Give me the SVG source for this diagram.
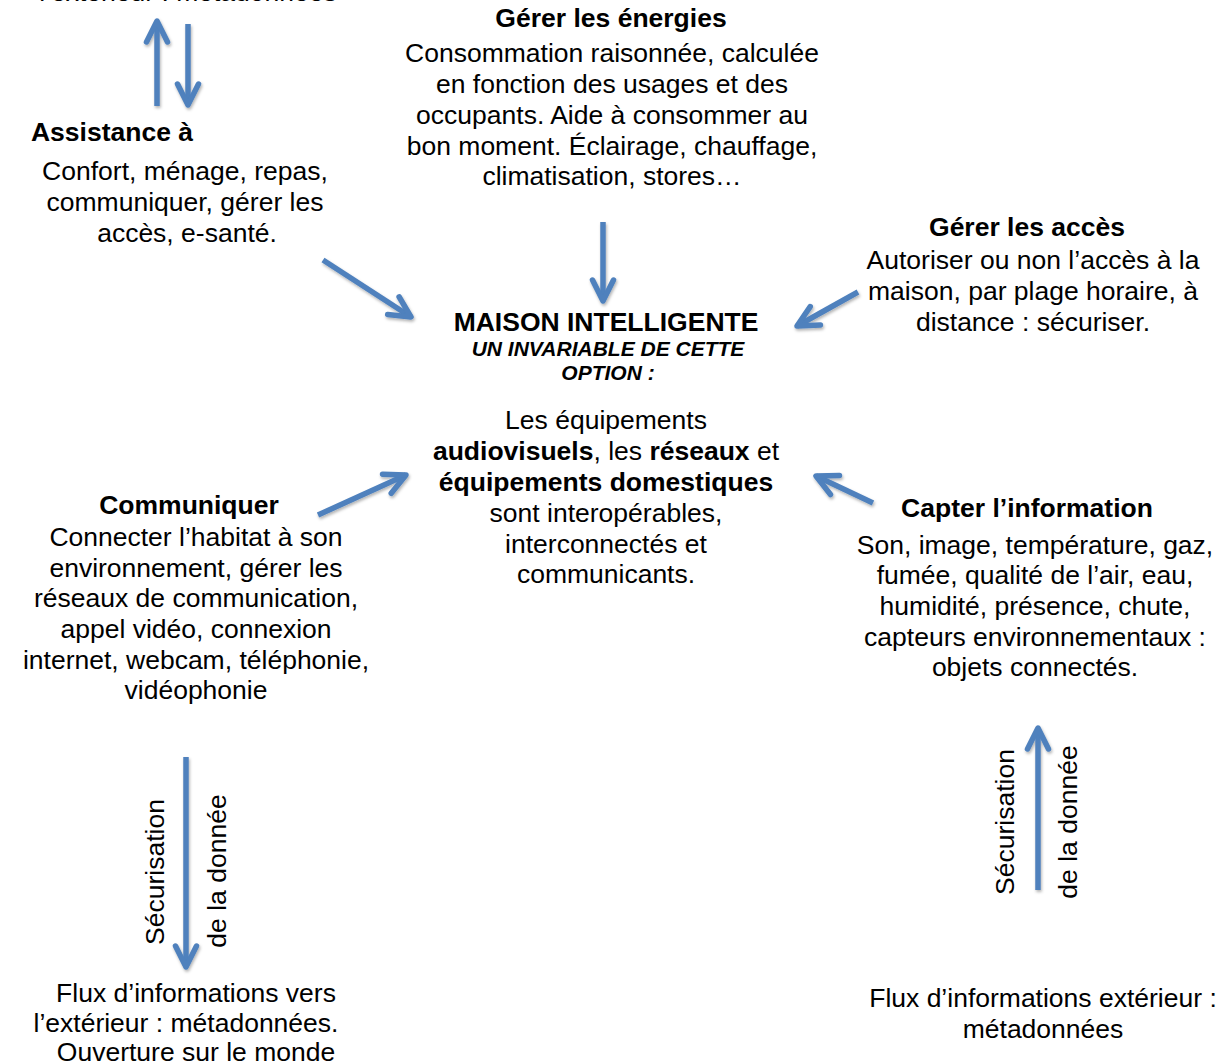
<svg xmlns="http://www.w3.org/2000/svg" width="1217" height="1062" viewBox="0 0 1217 1062">
  <style>
    text { font-family: "Liberation Sans", Arial, sans-serif; font-size: 26.5px; fill: #000; text-anchor: middle; }
    .b { font-weight: bold; }
    .sub { font-size: 21px; font-weight: bold; font-style: italic; }
    .arrow { fill: none; stroke: #4f81bd; stroke-width: 5.5; stroke-linecap: butt; marker-end: url(#head); }
  </style>
  <defs>
    <marker id="head" markerUnits="userSpaceOnUse" viewBox="-26 -15 30 30" refX="0" refY="0" markerWidth="30" markerHeight="30" orient="auto" overflow="visible">
      <path d="M -21,-10.5 L 0,0 L -21,10.5" fill="none" stroke="#4f81bd" stroke-width="5.5" stroke-linecap="round" stroke-linejoin="round"/>
    </marker>
    <filter id="shadow" x="-20%" y="-20%" width="140%" height="140%">
      <feDropShadow dx="1" dy="2" stdDeviation="1.5" flood-color="#000" flood-opacity="0.3"/>
    </filter>
  </defs>

  <rect width="1217" height="1062" fill="#fff"/>

  <!-- connectors -->
  <g id="connectors" filter="url(#shadow)">
    <line class="arrow" x1="157" y1="106" x2="157" y2="21"/>
    <line class="arrow" x1="188" y1="24" x2="188" y2="105"/>
    <line class="arrow" x1="323" y1="260" x2="411" y2="317"/>
    <line class="arrow" x1="603" y1="222" x2="603" y2="301"/>
    <line class="arrow" x1="858" y1="292" x2="797" y2="326"/>
    <line class="arrow" x1="318" y1="515" x2="406" y2="475"/>
    <line class="arrow" x1="873" y1="503" x2="816" y2="476"/>
    <line class="arrow" x1="186" y1="757" x2="186" y2="967"/>
    <line class="arrow" x1="1038" y1="890" x2="1038" y2="728"/>
  </g>

  <!-- outgoing flow, top edge -->
  <g id="flux-top">
    <text x="188" y="1">l’extérieur : métadonnées</text>
  </g>

  <g id="assistance">
    <text class="b" x="112" y="141">Assistance à</text>
    <text x="185" y="180">Confort, ménage, repas,</text>
    <text x="185" y="211">communiquer, gérer les</text>
    <text x="187" y="242">accès, e-santé.</text>
  </g>

  <g id="energies">
    <text class="b" x="611" y="27">Gérer les énergies</text>
    <text x="612" y="62">Consommation raisonnée, calculée</text>
    <text x="612" y="93">en fonction des usages et des</text>
    <text x="612" y="124">occupants. Aide à consommer au</text>
    <text x="612" y="155">bon moment. Éclairage, chauffage,</text>
    <text x="612" y="185">climatisation, stores…</text>
  </g>

  <g id="acces">
    <text class="b" x="1027" y="236">Gérer les accès</text>
    <text x="1033" y="269">Autoriser ou non l’accès à la</text>
    <text x="1033" y="300">maison, par plage horaire, à</text>
    <text x="1033" y="331">distance : sécuriser.</text>
  </g>

  <g id="maison">
    <text class="b" x="606" y="331">MAISON INTELLIGENTE</text>
    <text class="sub" x="608" y="356">UN INVARIABLE DE CETTE</text>
    <text class="sub" x="608" y="380">OPTION :</text>
    <text x="606" y="429">Les équipements</text>
    <text x="606" y="460"><tspan class="b">audiovisuels</tspan>, les <tspan class="b">réseaux</tspan> et</text>
    <text class="b" x="606" y="491">équipements domestiques</text>
    <text x="606" y="522">sont interopérables,</text>
    <text x="606" y="553">interconnectés et</text>
    <text x="606" y="583">communicants.</text>
  </g>

  <g id="communiquer">
    <text class="b" x="189" y="514">Communiquer</text>
    <text x="196" y="546">Connecter l’habitat à son</text>
    <text x="196" y="577">environnement, gérer les</text>
    <text x="196" y="607">réseaux de communication,</text>
    <text x="196" y="638">appel vidéo, connexion</text>
    <text x="196" y="669">internet, webcam, téléphonie,</text>
    <text x="196" y="699">vidéophonie</text>
  </g>

  <g id="capter">
    <text class="b" x="1027" y="517">Capter l’information</text>
    <text x="1035" y="554">Son, image, température, gaz,</text>
    <text x="1035" y="584">fumée, qualité de l’air, eau,</text>
    <text x="1035" y="615">humidité, présence, chute,</text>
    <text x="1035" y="646">capteurs environnementaux :</text>
    <text x="1035" y="676">objets connectés.</text>
  </g>

  <g id="securisation-gauche">
    <text transform="translate(164,872) rotate(-90)">Sécurisation</text>
    <text transform="translate(226,871) rotate(-90)">de la donnée</text>
  </g>

  <g id="securisation-droite">
    <text transform="translate(1014,822) rotate(-90)">Sécurisation</text>
    <text transform="translate(1077,822) rotate(-90)">de la donnée</text>
  </g>

  <g id="flux-sortant">
    <text x="196" y="1002">Flux d’informations vers</text>
    <text x="186" y="1032">l’extérieur : métadonnées.</text>
    <text x="196" y="1061">Ouverture sur le monde</text>
  </g>

  <g id="flux-entrant">
    <text x="1043" y="1007">Flux d’informations extérieur :</text>
    <text x="1043" y="1038">métadonnées</text>
  </g>
</svg>
